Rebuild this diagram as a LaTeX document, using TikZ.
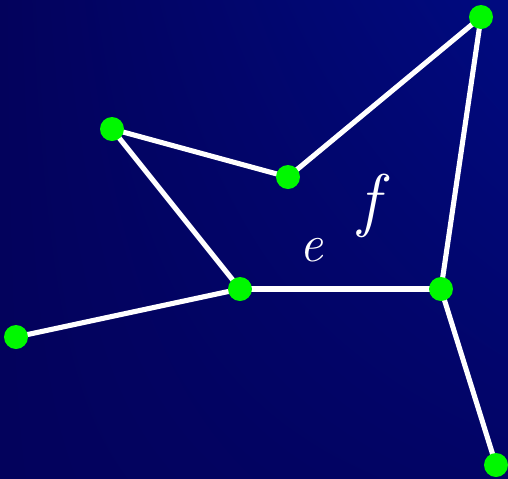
\documentclass[tikz,border=0pt]{standalone}
\usepackage{fontspec}
\usepackage{tikz}
\usetikzlibrary{positioning, calc, shadings}

\definecolor{bgdark}{HTML}{03025C}
\definecolor{bgmid}{HTML}{020466}
\definecolor{bglight}{HTML}{000A80}
\definecolor{dotgreen}{HTML}{00F800}

\pgfdeclarelayer{bg}
\pgfdeclarelayer{edges}
\pgfsetlayers{bg,edges,main}

\begin{document}
\begin{tikzpicture}[
    x=0.02cm, y=-0.02cm,
    vertex/.style={circle, fill=dotgreen, inner sep=0pt, minimum size=0.48cm},
    edge/.style={draw=white, line width=2.9pt},
    lbl/.style={text=white, inner sep=0pt}
]
    % background
    \begin{pgfonlayer}{bg}
        \shade[upper left=bgdark, upper right=bglight, lower left=bgdark, lower right=bgmid] (0,0) rectangle (508,478);
    \end{pgfonlayer}
    \useasboundingbox (0,0) rectangle (508,478);

    \node[vertex] (a) at (481,17) {};
    \node[vertex] (b) at (112,129) {};
    \node[vertex] (c) at (288,177) {};
    \node[vertex] (d) at (240,289) {};
    \node[vertex] (e) at (441,289) {};
    \node[vertex] (f) at (16,337) {};
    \node[vertex] (g) at (496,465) {};

    \begin{pgfonlayer}{edges}
        \draw[edge] (b.center) -- (c.center);
        \draw[edge] (c.center) -- (a.center);
        \draw[edge] (a.center) -- (e.center);
        \draw[edge] (b.center) -- (d.center);
        \draw[edge] (d.center) -- (e.center);
        \draw[edge] (d.center) -- (f.center);
        \draw[edge] (e.center) -- (g.center);
    \end{pgfonlayer}

    \node[lbl, font=\fontsize{30}{34}\selectfont\itshape] (elbl) at (311,250) {e};
    \node[lbl, font=\fontsize{40}{46}\selectfont\itshape] (flbl) at (369,206) {f};
\end{tikzpicture}
\end{document}
